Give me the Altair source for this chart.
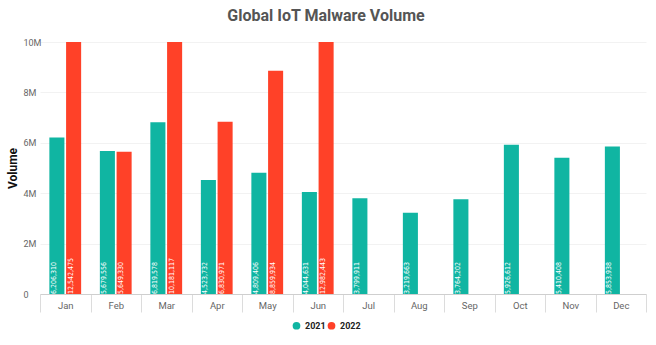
import altair as alt
import pandas as pd

months = ["Jan", "Feb", "Mar", "Apr", "May", "Jun", "Jul", "Aug", "Sep", "Oct", "Nov", "Dec"]
vol_2021 = [6206310, 5679556, 6819578, 4523732, 4809406, 4044631,
            3799911, 3219663, 3764202, 5926612, 5410408, 5853938]
vol_2022 = [12542475, 5649330, 10181117, 6830971, 8859934, 12982443]
years = ["2021", "2022"]
colors = ["#10B5A2", "#FF4128"]
y_ticks = [0, 2000000, 4000000, 6000000, 8000000, 10000000]

rows = []
for m, v in zip(months, vol_2021):
    rows.append({"month": m, "year": "2021", "value": v, "base": 0})
for m, v in zip(months, vol_2022):
    rows.append({"month": m, "year": "2022", "value": v, "base": 0})
df = pd.DataFrame(rows)

FONT = "DejaVu Sans Condensed"

base = alt.Chart(df).encode(
    x=alt.X(
        "month:N",
        sort=months,
        title=None,
        scale=alt.Scale(paddingInner=0, paddingOuter=0),
        axis=alt.Axis(
            tickBand="extent",
            tickSize=18,
            tickColor="#dcdcdc",
            domainColor="#cfcfcf",
            labelPadding=-12,
            labelColor="#666666",
            labelFontSize=9.5,
            labelFont="Roboto",
            labelAngle=0,
            grid=False,
        ),
    ),
    xOffset=alt.XOffset(
        "year:N",
        scale=alt.Scale(domain=years, paddingInner=0.1, paddingOuter=0.56),
    ),
)

bars = base.mark_bar(clip=True).encode(
    y=alt.Y(
        "value:Q",
        title="Volume",
        scale=alt.Scale(domain=[0, 10000000], nice=False),
        axis=alt.Axis(
            values=y_ticks,
            labelExpr="datum.value == 0 ? '0' : (datum.value / 1000000) + 'M'",
            labelAlign="left",
            labelPadding=17,
            labelColor="#666666",
            labelFontSize=9,
            labelFont="Roboto",
            ticks=False,
            domain=False,
            gridColor="#f2f2f2",
            titleX=-28,
            titleY=126,
            titleAngle=-90,
            titleBaseline="middle",
            titleFont="Roboto",
            titleFontSize=12,
            titleFontWeight="bold",
            titleColor="#111111",
        ),
    ),
    color=alt.Color(
        "year:N",
        scale=alt.Scale(domain=years, range=colors),
        legend=alt.Legend(
            orient="none",
            legendX=252,
            legendY=279,
            direction="horizontal",
            title=None,
            symbolType="circle",
            symbolSize=60,
            symbolStrokeWidth=0,
            labelFontSize=9,
            labelFontWeight="bold",
            labelFont="Roboto",
            labelColor="#222222",
            columnPadding=1,
        ),
    ),
)

labels = base.mark_text(
    angle=270, align="left", baseline="middle", dy=-3,
    color="white", fontSize=7, font=FONT,
).encode(
    y=alt.Y("base:Q", title="Volume"),
    text=alt.Text("value:Q", format=","),
)

chart = (
    alt.layer(bars, labels)
    .properties(
        width=606,
        height=252,
        autosize=alt.AutoSizeParams(type="none"),
        padding={"left": 40, "top": 42, "right": 10, "bottom": 51},
        title=alt.TitleParams(
            "Global IoT Malware Volume",
            fontSize=16,
            font="Roboto",
            fontWeight="bold",
            color="#555555",
            anchor="middle",
            dx=-17,
            offset=14,
        ),
    )
    .configure_view(stroke=None)
)

chart.save("out.html", embed_options={"renderer": "svg", "actions": False})
